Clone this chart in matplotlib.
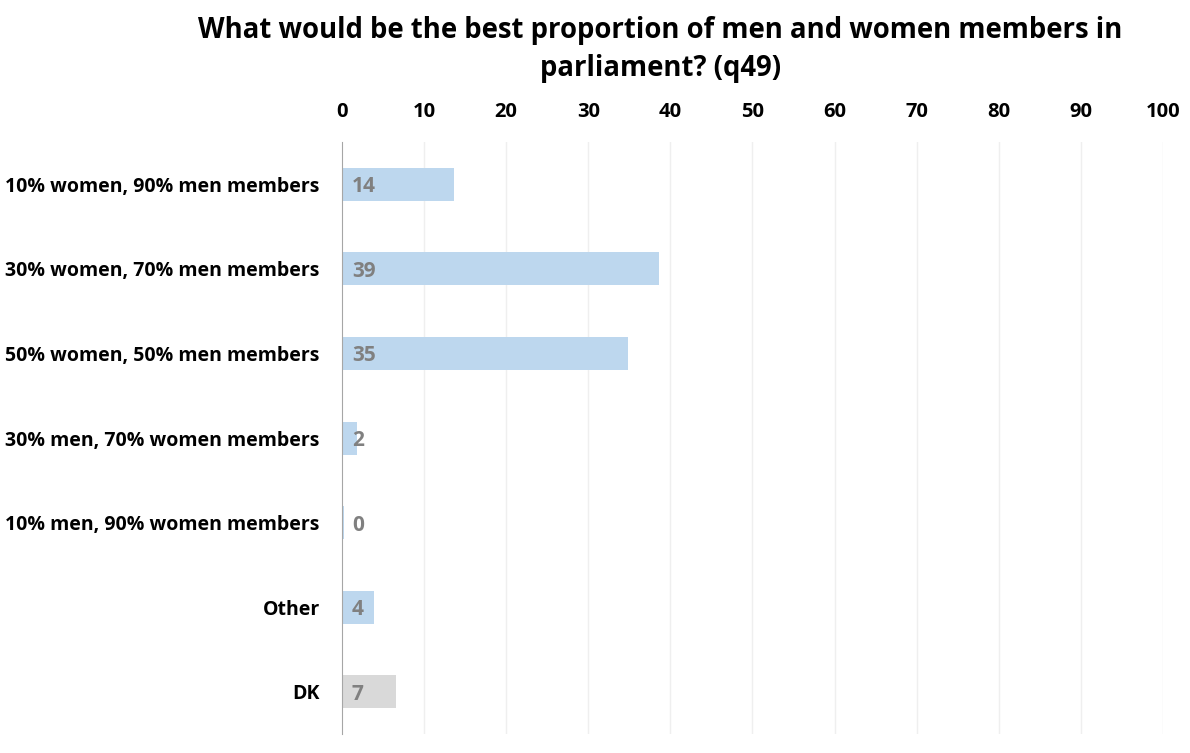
import matplotlib
matplotlib.use("Agg")
import matplotlib.pyplot as plt

categories = [
    "10% women, 90% men members",
    "30% women, 70% men members",
    "50% women, 50% men members",
    "30% men, 70% women members",
    "10% men, 90% women members",
    "Other",
    "DK",
]
values = [13.6, 38.6, 34.8, 1.8, 0.3, 3.9, 6.6]
bar_colors = ["#BDD7EE"] * 6 + ["#D9D9D9"]
ticks = list(range(0, 101, 10))

plt.rcParams["font.family"] = ["Open Sans", "DejaVu Sans"]
plt.rcParams["font.weight"] = "bold"

fig = plt.figure(figsize=(11.9, 7.53), dpi=100)
ax = fig.add_axes([0.2874, 0.025, 0.6899, 0.7866])

y = list(range(len(categories)))
ax.barh(y, values, height=0.39, color=bar_colors, zorder=2)
for yi, v in zip(y, values):
    ax.text(1.2, yi + 0.03, f"{v:.0f}", va="center", ha="left", color="#808080",
            fontsize=15, fontweight="bold", zorder=3)

ax.set_xlim(0, 100)
ax.set_ylim(len(categories) - 0.5, -0.5)
ax.set_yticks(y)
ax.set_yticklabels(categories, fontsize=14, fontweight="bold")
ax.set_xticks(ticks)
ax.set_xticklabels([str(t) for t in ticks], fontsize=14.5, fontweight="bold")
ax.xaxis.tick_top()
ax.tick_params(axis="x", length=0, pad=14)
ax.tick_params(axis="y", length=0, pad=16)

# light vertical grid, zero line kept as the axis spine
for t in ticks[1:]:
    ax.axvline(t, color="#EFEFEF", lw=1, zorder=1)
for s in ["top", "right", "bottom"]:
    ax.spines[s].set_visible(False)
ax.spines["left"].set_color("#A6A6A6")
ax.spines["left"].set_zorder(4)

fig.text(0.555, 0.959, "What would be the best proportion of men and women members in",
         ha="center", va="center", fontsize=19.8, fontweight="bold")
fig.text(0.555, 0.909, "parliament? (q49)", ha="center", va="center",
         fontsize=19.8, fontweight="bold")

fig.savefig("out.png", dpi=100)
